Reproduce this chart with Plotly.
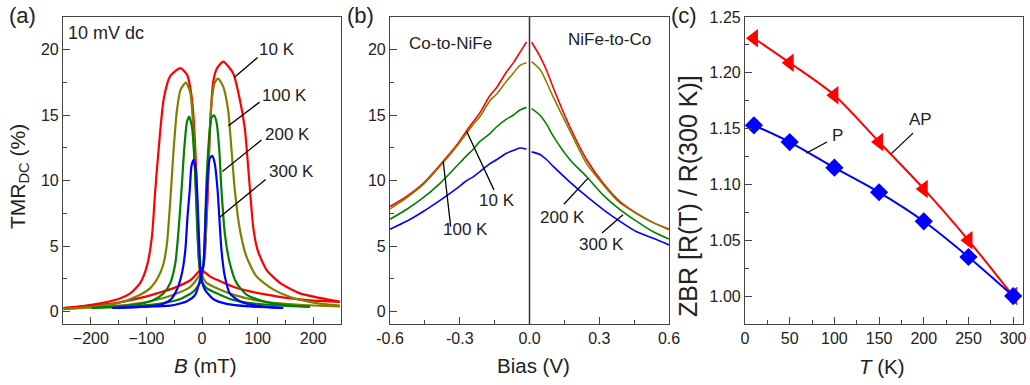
import plotly.graph_objects as go

# ---------------- Panel (a): TMR_DC vs B (two sweep branches per temperature) ----------------
B_10K_L = [-249, -199, -150, -129, -111, -99, -90, -84, -78, -69, -57, -39, -27, -18, -12, -9, -6, -3, 2, 14, 26, 56, 86, 116, 152, 194, 248]
T_10K_L = [0.28, 0.53, 0.97, 1.4, 2.2, 3.5, 5.75, 9.3, 12.4, 16.2, 18.0, 18.6, 18.1, 16.2, 12.4, 8.5, 4.7, 3.2, 3.1, 2.7, 2.45, 1.9, 1.55, 1.3, 1.05, 0.87, 0.75]
B_10K_R = [-249, -199, -150, -111, -81, -51, -21, -3, 2.4, 5, 10, 14, 20, 26, 38, 56, 68, 77, 85, 92, 100, 116, 140, 176, 212, 248]
T_10K_R = [0.28, 0.45, 0.7, 1.05, 1.4, 1.8, 2.4, 3.2, 3.5, 4.7, 8.5, 13.6, 17.5, 18.5, 19.1, 18.2, 16.2, 14.0, 10.0, 6.5, 4.7, 3.2, 2.2, 1.4, 1.05, 0.75]

B_100K_L = [-249, -199, -150, -117, -93, -78, -69, -63, -57, -51, -45, -39, -29, -21, -15, -10, -6, -2, 8, 32, 56, 86, 116, 176, 248]
T_100K_L = [0.2, 0.36, 0.66, 1.17, 1.8, 2.7, 3.7, 5.2, 8.5, 12.4, 15.4, 16.9, 17.5, 16.7, 13.6, 8.5, 4.2, 2.95, 2.2, 1.7, 1.3, 0.97, 0.74, 0.53, 0.4]
B_100K_R = [-249, -150, -93, -51, -21, -2, 5, 11, 17, 23, 29, 38, 47, 53, 59, 68, 80, 98, 128, 164, 206, 248]
T_100K_R = [0.2, 0.46, 0.8, 1.3, 1.9, 2.95, 4.2, 11.1, 15.9, 17.5, 17.8, 17.2, 15.4, 12.4, 9.3, 6.3, 4.2, 2.7, 1.7, 1.05, 0.66, 0.46]

B_200K_L = [-199, -150, -111, -87, -69, -57, -48, -42, -36, -32, -27, -23, -18, -13, -9, -5, -1, 8, 32, 56, 86, 146, 194]
T_200K_L = [0.28, 0.4, 0.6, 0.9, 1.4, 2.2, 3.7, 6.3, 9.8, 12.4, 14.5, 14.9, 14.1, 11.1, 6.8, 3.7, 2.4, 1.8, 1.3, 0.9, 0.66, 0.46, 0.36]
B_200K_R = [-199, -129, -69, -39, -15, -1, 3.6, 8, 13, 17, 21.6, 26, 31, 35, 41, 50, 62, 80, 110, 146, 194]
T_200K_R = [0.28, 0.4, 0.66, 0.97, 1.55, 2.4, 4.2, 9.8, 13.4, 14.8, 15.0, 14.5, 12.4, 9.3, 6.0, 3.7, 2.2, 1.3, 0.8, 0.53, 0.36]

B_300K_L = [-162, -111, -75, -57, -45, -36, -30, -26, -22, -19, -15, -11, -8, -5, -2, 5, 20, 44, 86, 146]
T_300K_L = [0.28, 0.36, 0.53, 0.9, 1.7, 2.95, 4.7, 7.3, 9.3, 11.1, 11.6, 10.8, 8.5, 5.2, 2.7, 1.7, 0.97, 0.6, 0.4, 0.28]
B_300K_R = [-162, -111, -57, -27, -12, -2, 2.4, 7, 11, 14, 18.6, 23, 28, 31, 35, 41, 50, 68, 98, 146]
T_300K_R = [0.28, 0.36, 0.46, 0.8, 1.3, 2.7, 3.5, 7.8, 10.8, 11.7, 11.9, 11.3, 9.3, 7.3, 4.7, 2.7, 1.4, 0.8, 0.46, 0.28]

# ---------------- Panel (b): TMR vs bias ----------------
V_neg = [-0.600, -0.529, -0.457, -0.385, -0.314, -0.271, -0.242, -0.213, -0.170, -0.142, -0.099, -0.070, -0.041, -0.013]
V_pos = [0.009, 0.045, 0.074, 0.102, 0.174, 0.246, 0.317, 0.389, 0.461, 0.532, 0.600]
TMRb_10K_neg = [8.03, 8.8, 9.8, 11.2, 12.7, 13.8, 14.5, 15.2, 16.5, 17.1, 18.3, 19.0, 19.8, 20.6]
TMRb_100K_neg = [7.85, 8.7, 9.7, 11.1, 12.6, 13.6, 14.3, 14.9, 16.1, 16.6, 17.6, 18.2, 18.8, 19.0]
TMRb_200K_neg = [7.06, 7.8, 8.7, 9.8, 11.1, 11.9, 12.4, 13.0, 13.6, 14.1, 14.7, 15.0, 15.4, 15.6]
TMRb_300K_neg = [6.3, 6.9, 7.65, 8.5, 9.4, 10.0, 10.3, 10.7, 11.3, 11.6, 12.1, 12.3, 12.5, 12.4]
TMRb_10K_pos = [20.57, 19.5, 18.4, 17.1, 14.1, 11.6, 9.8, 8.4, 7.5, 6.8, 6.3]
TMRb_100K_pos = [19.1, 18.5, 17.5, 16.4, 13.8, 11.3, 9.7, 8.3, 7.5, 6.8, 6.25]
TMRb_200K_pos = [15.5, 15.0, 14.3, 13.4, 11.6, 10.3, 8.9, 7.8, 6.9, 6.1, 5.55]
TMRb_300K_pos = [12.2, 12.0, 11.6, 11.1, 9.9, 8.8, 7.8, 6.9, 6.1, 5.6, 5.1]

# ---------------- Panel (c): ZBR vs T ----------------
T_K = [10, 50, 100, 150, 200, 250, 300]
ZBR_AP = [1.231, 1.209, 1.180, 1.138, 1.096, 1.050, 1.000]
ZBR_P = [1.153, 1.138, 1.115, 1.093, 1.067, 1.035, 1.000]

RED, OLIVE, GREEN, BLUE = "#ff0000", "#808000", "#008000", "#0000ff"
W, H = 1030, 385
FONT = "Liberation Sans, Arial, sans-serif"

def px(x):
    return x / W

def py(y):
    return 1 - y / H

fig = go.Figure()

panel_a = [(B_10K_L, T_10K_L, B_10K_R, T_10K_R, RED),
           (B_100K_L, T_100K_L, B_100K_R, T_100K_R, OLIVE),
           (B_200K_L, T_200K_L, B_200K_R, T_200K_R, GREEN),
           (B_300K_L, T_300K_L, B_300K_R, T_300K_R, BLUE)]
for bl, tl, br, tr, c in panel_a:
    for bx, ty in ((bl, tl), (br, tr)):
        fig.add_trace(go.Scatter(x=bx, y=ty, mode="lines", xaxis="x", yaxis="y",
                                 line=dict(color=c, width=2.2, shape="spline", smoothing=0.6),
                                 showlegend=False, hoverinfo="skip"))

panel_b = [(TMRb_10K_neg, TMRb_10K_pos, RED), (TMRb_100K_neg, TMRb_100K_pos, OLIVE),
           (TMRb_200K_neg, TMRb_200K_pos, GREEN), (TMRb_300K_neg, TMRb_300K_pos, BLUE)]
for neg, pos, c in panel_b:
    fig.add_trace(go.Scatter(x=V_neg, y=neg, mode="lines", xaxis="x2", yaxis="y2",
                             line=dict(color=c, width=1.6, shape="spline", smoothing=0.8),
                             showlegend=False, hoverinfo="skip"))
    fig.add_trace(go.Scatter(x=V_pos, y=pos, mode="lines", xaxis="x2", yaxis="y2",
                             line=dict(color=c, width=1.6, shape="spline", smoothing=0.8),
                             showlegend=False, hoverinfo="skip"))

fig.add_trace(go.Scatter(x=T_K, y=ZBR_AP, mode="lines+markers", xaxis="x3", yaxis="y3",
                         line=dict(color=RED, width=2, shape="spline", smoothing=0.8),
                         marker=dict(symbol="triangle-left", size=16, color=RED),
                         showlegend=False, hoverinfo="skip"))
fig.add_trace(go.Scatter(x=T_K, y=ZBR_P, mode="lines+markers", xaxis="x3", yaxis="y3",
                         line=dict(color=BLUE, width=2, shape="spline", smoothing=0.8),
                         marker=dict(symbol="diamond", size=14, color=BLUE),
                         showlegend=False, hoverinfo="skip"))

ydom = [py(324), py(17)]
axis_common = dict(showline=True, linecolor="#444", linewidth=1.2, mirror=True,
                   ticks="inside", ticklen=7, tickcolor="#444", tickwidth=1,
                   showgrid=False, zeroline=False, automargin=False,
                   tickfont=dict(family=FONT, size=16, color="#222"))
minor = dict(ticks="inside", ticklen=4, tickcolor="#444", showgrid=False)

fig.update_layout(
    template="none",
    width=W, height=H, margin=dict(l=0, r=0, t=0, b=0, autoexpand=False),
    paper_bgcolor="white", plot_bgcolor="white",
    font=dict(family=FONT, color="#222"),
    xaxis=dict(domain=[px(63), px(341)], range=[-250, 250], tickvals=[-200, -100, 0, 100, 200],
               minor=dict(dtick=50, **minor), anchor="y", **axis_common),
    yaxis=dict(domain=ydom, range=[-0.94, 22.5], tickvals=[0, 5, 10, 15, 20],
               minor=dict(dtick=2.5, **minor), anchor="x", **axis_common),
    xaxis2=dict(domain=[px(390), px(669)], range=[-0.6, 0.6], tickvals=[-0.6, -0.3, 0, 0.3, 0.6],
                ticktext=["-0.6", "-0.3", "0.0", "0.3", "0.6"],
                minor=dict(dtick=0.15, **minor), anchor="y2", **axis_common),
    yaxis2=dict(domain=ydom, range=[-0.94, 22.5], tickvals=[0, 5, 10, 15, 20],
                minor=dict(dtick=2.5, **minor), anchor="x2", **axis_common),
    xaxis3=dict(domain=[px(745), px(1023)], range=[0, 311], tickvals=[0, 50, 100, 150, 200, 250, 300],
                minor=dict(dtick=25, **minor), anchor="y3", **axis_common),
    yaxis3=dict(domain=ydom, range=[0.975, 1.25], tickvals=[1.0, 1.05, 1.1, 1.15, 1.2, 1.25],
                ticktext=["1.00", "1.05", "1.10", "1.15", "1.20", "1.25"],
                minor=dict(dtick=0.025, **minor), anchor="x3", **axis_common),
)

annotations = []

def ptext(text, x, y, size=17, angle=0, xanchor="center"):
    annotations.append(dict(text=text, x=px(x), y=py(y), xref="paper", yref="paper",
                            showarrow=False, textangle=angle, xanchor=xanchor, yanchor="middle",
                            font=dict(family=FONT, size=size, color="#222")))

def dtext(text, x, y, ax, size=17, xanchor="center"):
    annotations.append(dict(text=text, x=x, y=y, xref=ax[0], yref=ax[1], showarrow=False,
                            xanchor=xanchor, yanchor="middle",
                            font=dict(family=FONT, size=size, color="#222")))

# panel labels
ptext("(a)", 22, 15, size=22)
ptext("(b)", 360, 15, size=22)
ptext("(c)", 684, 15, size=22)
# axis titles
ptext("TMR<sub>DC</sub> (%)", 19, 177, size=21, angle=-90)
ptext("<i>B</i> (mT)", 205, 365, size=20.5)
ptext("Bias (V)", 533, 365, size=20.5)
ptext("<i>T</i> (K)", 882, 366, size=20.5)
ptext("ZBR [R(T) / R(300 K)]", 688, 196, size=25, angle=-90)

# panel (a) labels
xa = ("x", "y")
dtext("10 mV dc", -244, 21.3, xa, size=18, xanchor="left")
dtext("10 K", 134, 20.0, xa)
dtext("100 K", 149, 16.5, xa)
dtext("200 K", 154, 13.5, xa)
dtext("300 K", 161, 10.7, xa)
# panel (b) labels
xb = ("x2", "y2")
dtext("Co-to-NiFe", -0.338, 20.5, xb)
dtext("NiFe-to-Co", 0.342, 20.8, xb)
dtext("10 K", -0.14, 8.46, xb)
dtext("100 K", -0.277, 6.25, xb)
dtext("200 K", 0.14, 7.16, xb)
dtext("300 K", 0.308, 5.1, xb)
# panel (c) labels
xc = ("x3", "y3")
dtext("AP", 196, 1.158, xc)
dtext("P", 103, 1.1435, xc)

fig.update_layout(annotations=annotations)

shapes = []
def seg(x0, y0, x1, y1, ax):
    shapes.append(dict(type="line", x0=x0, y0=y0, x1=x1, y1=y1, xref=ax[0], yref=ax[1],
                       line=dict(color="black", width=1.3)))

seg(100, 19.4, 58.4, 17.9, xa)
seg(103.6, 16.0, 47.6, 14.2, xa)
seg(107, 13.1, 36.7, 10.7, xa)
seg(114.5, 10.1, 31.3, 7.2, xa)
seg(-0.27, 13.76, -0.153, 9.3, xb)
seg(-0.371, 11.47, -0.339, 6.5, xb)
seg(0.252, 10.2, 0.148, 8.2, xb)
seg(0.402, 7.4, 0.312, 6.0, xb)
seg(188, 1.146, 163.4, 1.1274, xc)
seg(91.8, 1.138, 68.3, 1.128, xc)
# zero-bias divider in panel (b)
shapes.append(dict(type="line", x0=0, x1=0, y0=0, y1=1, xref="x2", yref="y2 domain",
                   line=dict(color="#333", width=1.5)))
fig.update_layout(shapes=shapes)

fig.write_html("out.html")
